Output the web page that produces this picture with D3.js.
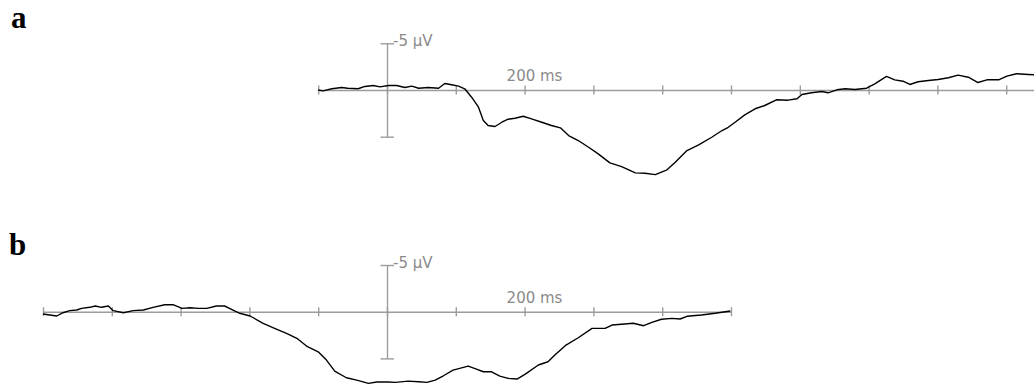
<!DOCTYPE html>
<html>
<head>
<meta charset="utf-8">
<script src="https://cdn.jsdelivr.net/npm/d3@7"></script>
<style>
  body { margin: 0; background: #fff; }
  svg { display: block; }
  .panel-label { font-family: "Liberation Serif", "Times New Roman", serif; font-weight: bold; font-size: 31px; }
</style>
</head>
<body>
<svg id="chart"></svg>
<script>
// panel a: time (ms) and amplitude (µV, negative up)
const timeA = [-100, -93, -80, -66, -57, -42, -32, -20, -10, 2, 14, 26, 36, 46, 60, 75, 84, 94, 104, 113,
  123, 133, 140, 147, 157, 167, 176, 186, 198, 210, 225, 239, 252, 264, 278, 293, 307, 324, 341, 361,
  375, 390, 407, 419, 436, 453, 472, 487, 496, 506, 520, 535, 549, 566, 583, 596, 603, 617, 632, 641,
  654, 666, 680, 697, 709, 726, 738, 750, 760, 772, 787, 801, 816, 830, 845, 859, 872, 889, 901, 915,
  932, 941];
const ampA = [0.0, 0.09, -0.13, -0.27, -0.19, -0.13, -0.38, -0.48, -0.34, -0.48, -0.48, -0.27, -0.41, -0.19, -0.27, -0.19, -0.70, -0.56, -0.41, -0.13,
  0.77, 1.84, 3.27, 3.80, 3.91, 3.45, 3.13, 3.02, 2.81, 3.09, 3.45, 3.80, 4.05, 4.88, 5.41, 6.13, 6.84, 7.80, 8.20, 8.87,
  8.92, 9.06, 8.55, 7.74, 6.48, 5.87, 5.06, 4.34, 3.99, 3.45, 2.66, 2.01, 1.66, 1.05, 1.09, 0.94, 0.48, 0.30, 0.16, 0.30,
  -0.02, -0.13, -0.05, -0.19, -0.66, -1.45, -1.09, -0.94, -0.59, -0.88, -1.02, -1.13, -1.31, -1.59, -1.37, -0.80, -1.09, -1.09, -1.48, -1.74,
  -1.66, -1.63];

// panel b
const timeB = [-500, -490, -480, -471, -461, -451, -444, -432, -424, -415, -405, -398, -383, -369, -354, -340, -323, -311, -298, -286,
  -274, -262, -248, -236, -226, -214, -199, -180, -160, -146, -131, -117, -100, -88, -76, -59, -44, -27, -15, 2,
  12, 31, 46, 58, 70, 82, 96, 118, 130, 140, 152, 164, 176, 189, 201, 220, 234, 244, 259, 278,
  298, 317, 327, 341, 358, 373, 385, 399, 414, 426, 436, 457, 477, 499];
const ampB = [0.25, 0.35, 0.46, 0.11, -0.11, -0.18, -0.36, -0.47, -0.61, -0.47, -0.61, -0.11, 0.11, -0.11, -0.18, -0.47, -0.75, -0.75, -0.36, -0.43,
  -0.36, -0.36, -0.61, -0.61, -0.26, 0.17, 0.46, 1.24, 1.89, 2.32, 2.85, 3.68, 4.29, 5.18, 6.36, 7.07, 7.32, 7.67, 7.53, 7.53,
  7.57, 7.43, 7.50, 7.57, 7.32, 6.86, 6.25, 5.82, 6.14, 6.43, 6.43, 6.89, 7.14, 7.21, 6.68, 5.71, 5.36, 4.64, 3.64, 2.79,
  1.78, 1.78, 1.43, 1.35, 1.24, 1.50, 1.14, 0.81, 0.71, 0.78, 0.49, 0.35, 0.17, -0.08];

const xTicksA = [-100, 0, 100, 200, 300, 400, 500, 600, 700, 800, 900, 1000];
const xTicksB = [-500, -400, -300, -200, -100, 0, 100, 200, 300, 400, 500];
const yTicks = [-5, 5];

const width = 1034, height = 388;
const svg = d3.select("#chart").attr("width", width).attr("height", height);

// same time scale for both panels (zero at the same place)
const x = d3.scaleLinear().domain([-500, 500]).range([43, 731]);

function drawPanel(label, labelPos, times, amps, xDomain, xTicks, yRange) {
  const y = d3.scaleLinear().domain([-5, 5]).range(yRange);
  const g = svg.append("g");

  // horizontal time axis
  const xs = x.copy().domain(xDomain).range(xDomain.map(x));
  const xAxis = g.append("g")
    .attr("class", "axis")
    .attr("transform", `translate(0,${y(0)})`)
    .call(d3.axisBottom(xs).tickValues(xTicks).tickFormat("").tickSizeOuter(0));
  xAxis.selectAll(".tick line").attr("y1", -4.5).attr("y2", 4.5);

  // vertical amplitude axis
  const yAxis = g.append("g")
    .attr("class", "axis")
    .attr("transform", `translate(${x(0)},0)`)
    .call(d3.axisRight(y).tickValues(yTicks).tickSizeOuter(0)
      .tickFormat(d => d === -5 ? "-5 µV" : ""));
  yAxis.selectAll(".tick line").attr("x1", -6.5).attr("x2", 7);
  yAxis.selectAll(".tick text").attr("x", 6).attr("dy", "0.15em")
    .attr("font-family", "DejaVu Sans, sans-serif")
    .attr("font-size", 15).attr("fill", "#8a8a8a");

  g.selectAll(".axis path, .axis line").attr("stroke", "#9c9c9c").attr("stroke-width", 1.4);

  g.append("text")
    .attr("x", x(200) - 18)
    .attr("y", y(0) - 9)
    .attr("font-family", "DejaVu Sans, sans-serif")
    .attr("font-size", 15)
    .attr("fill", "#8a8a8a")
    .text("200 ms");

  // waveform
  const pts = times.map((t, i) => [t, amps[i]]);
  const line = d3.line().x(d => x(d[0])).y(d => y(d[1]));
  g.append("path")
    .datum(pts)
    .attr("fill", "none")
    .attr("stroke", "#000")
    .attr("stroke-width", 1.4)
    .attr("stroke-linejoin", "round")
    .attr("d", line);

  svg.append("text")
    .attr("class", "panel-label")
    .attr("x", labelPos[0])
    .attr("y", labelPos[1])
    .text(label);
}

drawPanel("a", [11, 28], timeA, ampA, [-100, 1000], xTicksA, [43.3, 136.7]);
drawPanel("b", [9, 255], timeB, ampB, [-500, 500], xTicksB, [265, 358.4]);
</script>
</body>
</html>
